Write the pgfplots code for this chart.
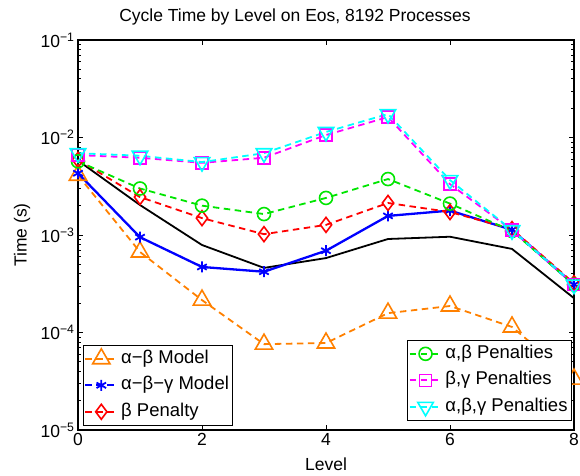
\documentclass[border=0pt]{standalone}
\usepackage{fontspec}
\setmainfont{Liberation Sans}
\usepackage{pgfplots}
\pgfplotsset{compat=1.18}

\definecolor{mOrange}{rgb}{1,0.5,0}
\definecolor{mBlue}{rgb}{0,0,1}
\definecolor{mRed}{rgb}{1,0,0}
\definecolor{mGreen}{rgb}{0,0.9,0}
\definecolor{mMagenta}{rgb}{1,0,1}
\definecolor{mCyan}{rgb}{0,1,1}

\tikzset{mdash/.style={line width=1.8bp, dash pattern=on 6.5bp off 4.5bp}}

\pgfplotsset{
  legend image code/.code={%
    \draw[mark repeat=2,mark phase=2,#1]
      plot coordinates {(0bp,0bp) (16bp,0bp) (32bp,0bp)};},
}

\begin{document}
\begin{tikzpicture}[font=\fontsize{17.5bp}{21bp}\selectfont]
\begin{axis}[name=ax,
    scale only axis, width=496bp, height=390bp,
    ymode=log, xmin=0, xmax=8, ymin=1e-5, ymax=1e-1,
    xtick={0,2,4,6,8},
    ytick={1e-5,1e-4,1e-3,1e-2,1e-1},
    yticklabels={10\textsuperscript{−5},10\textsuperscript{−4},10\textsuperscript{−3},10\textsuperscript{−2},10\textsuperscript{−1}},
    xticklabel style={/pgf/number format/assume math mode=true},
    tick align=inside,
    major tick length=5bp, minor tick length=3bp,
    axis line style={line width=1.1bp},
    every tick/.style={black, line width=0.8bp},
    title={Cycle Time by Level on Eos, 8192 Processes},
    xlabel={Level}, ylabel={Time (s)},
    every axis title/.style={at={(axis description cs:0.5,1)}, xshift=-31bp, yshift=23bp, anchor=center},
    every axis x label/.style={at={(axis description cs:0.5,0)}, yshift=-34bp, anchor=center},
    every axis y label/.style={at={(axis description cs:0,0.5)}, xshift=-56bp, rotate=90, anchor=center},
    legend cell align=left,
    legend style={at={(0.01,0.0103)}, anchor=south west,
      draw=black, line width=0.9bp, fill=white,
      inner xsep=1bp, inner ysep=0.5bp, row sep=0bp,
      font=\fontsize{18.5bp}{22bp}\selectfont,
      nodes={text height=12.5bp, text depth=4bp, inner ysep=5bp, inner xsep=3bp}},
  ]
  % measured cycle time
  \addplot[black, line width=1.8bp, forget plot] coordinates {
    (0,5.8e-3) (1,2.03e-3) (2,7.9e-4) (3,4.6e-4) (4,5.8e-4)
    (5,9.1e-4) (6,9.6e-4) (7,7.2e-4) (8,2.25e-4)};
  % alpha-beta model
  \addplot[mOrange, mdash, mark=triangle, mark size=10bp,
    mark options={solid, line width=1.6bp}, forget plot] coordinates {
    (0,4.1e-3) (1,6.7e-4) (2,2.15e-4) (3,7.6e-5) (4,7.8e-5)
    (5,1.58e-4) (6,1.87e-4) (7,1.14e-4) (8,3.33e-5)};
  % alpha-beta-gamma model
  \addplot[mBlue, line width=2.3bp, mark=asterisk, mark size=5.5bp,
    mark options={solid, line width=1.8bp}, forget plot] coordinates {
    (0,4.3e-3) (1,9.5e-4) (2,4.7e-4) (3,4.2e-4) (4,6.9e-4)
    (5,1.57e-3) (6,1.78e-3) (7,1.13e-3) (8,3.1e-4)};
  % beta penalty
  \addplot[mRed, mdash, mark=diamond, mark size=7.5bp,
    mark options={solid, line width=1.6bp}, forget plot] coordinates {
    (0,5.9e-3) (1,2.45e-3) (2,1.49e-3) (3,1.02e-3) (4,1.27e-3)
    (5,2.13e-3) (6,1.72e-3) (7,1.15e-3) (8,3.2e-4)};
  % alpha, beta penalties
  \addplot[mGreen, mdash, mark=o, mark size=6.5bp,
    mark options={solid, line width=1.6bp}, forget plot] coordinates {
    (0,5.7e-3) (1,3.0e-3) (2,2.0e-3) (3,1.64e-3) (4,2.4e-3)
    (5,3.75e-3) (6,2.1e-3) (7,1.1e-3) (8,3.1e-4)};
  % beta, gamma penalties
  \addplot[mMagenta, mdash, mark=square, mark size=6bp,
    mark options={solid, line width=1.6bp}, forget plot] coordinates {
    (0,6.6e-3) (1,6.2e-3) (2,5.5e-3) (3,6.2e-3) (4,1.06e-2)
    (5,1.62e-2) (6,3.33e-3) (7,1.12e-3) (8,3.1e-4)};
  % alpha, beta, gamma penalties
  \addplot[mCyan, mdash, mark=triangle, mark size=9bp,
    mark options={solid, rotate=180, line width=1.6bp}, forget plot] coordinates {
    (0,6.9e-3) (1,6.5e-3) (2,5.6e-3) (3,6.9e-3) (4,1.14e-2)
    (5,1.74e-2) (6,3.66e-3) (7,1.12e-3) (8,3.1e-4)};

  \addlegendimage{mOrange, mdash, mark=triangle, mark size=10bp, mark options={solid, line width=1.6bp}}
  \addlegendimage{mBlue, mdash, mark=asterisk, mark size=5.5bp, mark options={solid, line width=1.8bp}}
  \addlegendimage{mRed, mdash, mark=diamond, mark size=7.5bp, mark options={solid, line width=1.6bp}}
  \legend{α−β Model, α−β−γ Model, β Penalty}
\end{axis}

\begin{axis}[
    scale only axis, width=496bp, height=390bp,
    ymode=log, xmin=0, xmax=8, ymin=1e-5, ymax=1e-1,
    hide axis,
    legend cell align=left,
    legend style={at={(0.996,0.023)}, anchor=south east,
      draw=black, line width=0.9bp, fill=white,
      inner xsep=1bp, inner ysep=0.5bp, row sep=0bp,
      font=\fontsize{18.5bp}{22bp}\selectfont,
      nodes={text height=12.5bp, text depth=4bp, inner ysep=5bp, inner xsep=3bp}},
  ]
  \addplot[draw=none, forget plot] coordinates {(1,1e-3)};
  \addlegendimage{mGreen, mdash, mark=o, mark size=6.5bp, mark options={solid, line width=1.6bp}}
  \addlegendimage{mMagenta, mdash, mark=square, mark size=6bp, mark options={solid, line width=1.6bp}}
  \addlegendimage{mCyan, mdash, mark=triangle, mark size=9bp, mark options={solid, rotate=180, line width=1.6bp}}
  \legend{{α,β Penalties}, {β,γ Penalties}, {α,β,γ Penalties}}
\end{axis}

\pgfresetboundingbox
\path[use as bounding box] (ax.south west) ++(-78bp,-46bp) rectangle ++(580bp,476bp);
\end{tikzpicture}
\end{document}
